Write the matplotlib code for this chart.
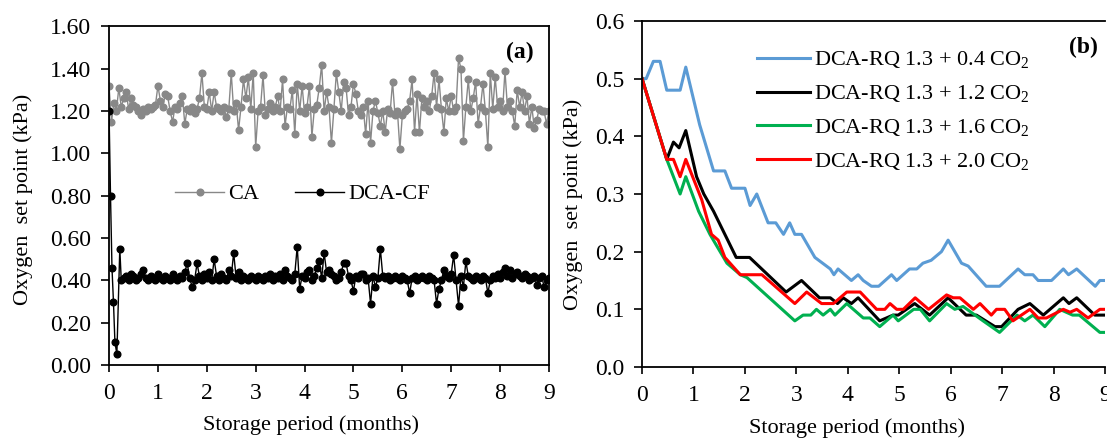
import numpy as np
import matplotlib
matplotlib.use("Agg")
import matplotlib.pyplot as plt

plt.rcParams['font.family'] = ['Liberation Serif', 'DejaVu Serif']
plt.rcParams['mathtext.fontset'] = 'custom'
plt.rcParams['mathtext.rm'] = 'Liberation Serif'

# ---- panel (a): CA and DCA-CF oxygen set points ----
ca_step = 0.05  # months between points
ca_values = [
    1.32, 1.15, 1.24, 1.20, 1.31, 1.22, 1.26, 1.29, 1.21, 1.26, 1.23, 1.22, 1.20, 1.18, 1.21, 1.20, 1.22, 1.21, 1.22, 1.23,
    1.32, 1.25, 1.22, 1.28, 1.27, 1.20, 1.15, 1.22, 1.21, 1.24, 1.27, 1.14, 1.21, 1.20, 1.22, 1.19, 1.21, 1.26, 1.38, 1.22,
    1.21, 1.29, 1.20, 1.29, 1.22, 1.21, 1.20, 1.22, 1.17, 1.21, 1.38, 1.20, 1.24, 1.11, 1.22, 1.35, 1.26, 1.36, 1.21, 1.38,
    1.03, 1.20, 1.22, 1.37, 1.18, 1.21, 1.24, 1.20, 1.22, 1.27, 1.20, 1.35, 1.13, 1.22, 1.21, 1.30, 1.09, 1.33, 1.20, 1.32,
    1.19, 1.22, 1.32, 1.08, 1.21, 1.23, 1.31, 1.42, 1.20, 1.29, 1.22, 1.05, 1.21, 1.38, 1.29, 1.20, 1.34, 1.31, 1.18, 1.22,
    1.33, 1.28, 1.20, 1.18, 1.22, 1.09, 1.25, 1.05, 1.20, 1.25, 1.19, 1.13, 1.20, 1.10, 1.21, 1.19, 1.34, 1.18, 1.20, 1.02,
    1.18, 1.20, 1.21, 1.25, 1.35, 1.10, 1.28, 1.10, 1.26, 1.22, 1.25, 1.20, 1.27, 1.38, 1.22, 1.35, 1.21, 1.10, 1.26, 1.20,
    1.27, 1.20, 1.22, 1.45, 1.40, 1.06, 1.22, 1.35, 1.20, 1.26, 1.34, 1.14, 1.22, 1.33, 1.20, 1.03, 1.38, 1.21, 1.36, 1.22,
    1.25, 1.20, 1.39, 1.22, 1.25, 1.20, 1.13, 1.30, 1.22, 1.29, 1.20, 1.27, 1.14, 1.22, 1.12, 1.16, 1.21, 1.20, 1.20, 1.14, 1.20,
]

# DCA-CF: a few closely spaced points at the start, then every 0.05 month from 0.25
dcacf_start_t = [0.0, 0.03, 0.06, 0.09, 0.12, 0.16, 0.22]
dcacf_start_v = [1.20, 0.80, 0.46, 0.30, 0.11, 0.05, 0.55]
dcacf_grid_t0 = 0.25
dcacf_values = [
    0.40, 0.41, 0.42, 0.40, 0.43, 0.42, 0.40, 0.41, 0.43, 0.45, 0.41, 0.40, 0.42, 0.41, 0.40,
    0.43, 0.41, 0.40, 0.42, 0.41, 0.40, 0.43, 0.41, 0.40, 0.42, 0.41, 0.44, 0.48, 0.41, 0.37, 0.40, 0.48, 0.42, 0.40, 0.43,
    0.41, 0.44, 0.40, 0.50, 0.42, 0.40, 0.43, 0.41, 0.40, 0.45, 0.42, 0.53, 0.41, 0.44, 0.40, 0.42, 0.41, 0.40, 0.42, 0.41,
    0.40, 0.42, 0.41, 0.40, 0.42, 0.41, 0.43, 0.40, 0.42, 0.41, 0.43, 0.40, 0.45, 0.42, 0.41, 0.40, 0.43, 0.56, 0.36, 0.42,
    0.41, 0.44, 0.45, 0.40, 0.42, 0.46, 0.49, 0.41, 0.53, 0.44, 0.45, 0.43, 0.42, 0.40, 0.41, 0.44, 0.48, 0.48, 0.42, 0.40,
    0.35, 0.42, 0.41, 0.43, 0.43, 0.40, 0.41, 0.29, 0.42, 0.37, 0.41, 0.55, 0.42, 0.41, 0.42, 0.40, 0.41, 0.42, 0.41, 0.40,
    0.42, 0.41, 0.40, 0.34, 0.41, 0.42, 0.40, 0.41, 0.42, 0.41, 0.40, 0.42, 0.41, 0.40, 0.29, 0.36, 0.40, 0.45, 0.42, 0.41,
    0.43, 0.52, 0.40, 0.28, 0.42, 0.37, 0.49, 0.42, 0.41, 0.40, 0.42, 0.41, 0.40, 0.42, 0.41, 0.34, 0.40, 0.42, 0.41, 0.43,
    0.41, 0.44, 0.46, 0.42, 0.45, 0.41, 0.43, 0.44, 0.42, 0.41, 0.43, 0.42, 0.40, 0.41, 0.42, 0.38, 0.41, 0.42, 0.37, 0.40, 0.41,
]

# ---- panel (b): DCA-RQ with different CO2 levels ----
rq04_t = [0, 0.08, 0.22, 0.35, 0.48, 0.74, 0.85, 1.12, 1.39, 1.61, 1.74, 2.0, 2.1, 2.23, 2.45, 2.6, 2.75, 2.87,
          2.97, 3.1, 3.36, 3.66, 3.73, 3.81, 4.07, 4.2, 4.3, 4.46, 4.6, 4.85, 4.95, 5.2, 5.34, 5.46, 5.62, 5.82,
          5.95, 6.21, 6.34, 6.69, 6.95, 7.31, 7.44, 7.6, 7.7, 7.96, 8.19, 8.29, 8.45, 8.81, 8.9, 9.0]
rq04_v = [0.50, 0.50, 0.53, 0.53, 0.48, 0.48, 0.52, 0.42, 0.34, 0.34, 0.31, 0.31, 0.28, 0.30, 0.25, 0.25, 0.23, 0.25,
          0.23, 0.23, 0.19, 0.17, 0.16, 0.17, 0.15, 0.16, 0.15, 0.14, 0.14, 0.16, 0.15, 0.17, 0.17, 0.18, 0.185, 0.20,
          0.22, 0.18, 0.175, 0.14, 0.14, 0.17, 0.16, 0.16, 0.15, 0.15, 0.17, 0.16, 0.17, 0.14, 0.15, 0.15]

rq12_t = [0, 0.48, 0.61, 0.72, 0.85, 1.06, 1.2, 1.39, 1.5, 1.83, 2.09, 2.8, 2.95, 3.1, 3.45, 3.66, 3.8, 3.91,
          4.07, 4.2, 4.62, 4.88, 4.98, 5.3, 5.59, 5.95, 6.3, 6.5, 6.86, 6.99, 7.31, 7.54, 7.8, 8.19, 8.3, 8.45, 8.8, 9.0]
rq12_v = [0.50, 0.36, 0.39, 0.38, 0.41, 0.33, 0.30, 0.27, 0.25, 0.19, 0.19, 0.13, 0.14, 0.15, 0.12, 0.12, 0.11, 0.12,
          0.11, 0.12, 0.08, 0.09, 0.09, 0.11, 0.09, 0.12, 0.09, 0.09, 0.07, 0.07, 0.10, 0.11, 0.09, 0.12, 0.11, 0.12, 0.09, 0.09]

rq16_t = [0, 0.48, 0.74, 0.85, 1.1, 1.32, 1.65, 1.91, 2.04, 2.97, 3.13, 3.28, 3.39, 3.52, 3.66, 3.75, 3.98, 4.3,
          4.43, 4.62, 4.88, 4.98, 5.28, 5.41, 5.59, 5.92, 6.08, 6.24, 6.63, 6.95, 7.29, 7.44, 7.6, 7.83, 8.12, 8.37,
          8.5, 8.9, 9.0]
rq16_v = [0.50, 0.36, 0.30, 0.33, 0.27, 0.23, 0.18, 0.16, 0.155, 0.08, 0.09, 0.09, 0.10, 0.09, 0.10, 0.09, 0.11, 0.085,
          0.085, 0.07, 0.09, 0.08, 0.10, 0.10, 0.08, 0.11, 0.10, 0.105, 0.08, 0.06, 0.09, 0.08, 0.09, 0.07, 0.10, 0.09,
          0.09, 0.06, 0.06]

rq20_t = [0, 0.48, 0.61, 0.74, 0.85, 1.16, 1.35, 1.48, 1.61, 1.91, 2.33, 2.97, 3.2, 3.49, 3.72, 3.98, 4.24, 4.56,
          4.72, 4.82, 4.95, 5.08, 5.31, 5.57, 5.92, 6.05, 6.18, 6.44, 6.57, 6.79, 6.89, 7.05, 7.21, 7.54, 7.7, 7.86,
          8.19, 8.32, 8.45, 8.67, 8.9, 9.0]
rq20_v = [0.50, 0.36, 0.36, 0.33, 0.36, 0.29, 0.23, 0.22, 0.19, 0.16, 0.16, 0.11, 0.13, 0.11, 0.11, 0.13, 0.13, 0.10,
          0.10, 0.11, 0.10, 0.10, 0.12, 0.10, 0.125, 0.12, 0.12, 0.10, 0.11, 0.09, 0.10, 0.10, 0.08, 0.10, 0.085, 0.085,
          0.10, 0.095, 0.10, 0.085, 0.10, 0.10]

rq_labels = [r'DCA-RQ 1.3 + 0.4 CO$_\mathregular{2}$', r'DCA-RQ 1.3 + 1.2 CO$_\mathregular{2}$',
             r'DCA-RQ 1.3 + 1.6 CO$_\mathregular{2}$', r'DCA-RQ 1.3 + 2.0 CO$_\mathregular{2}$']
rq_colors = ['#5b9bd5', '#000000', '#00b050', '#ff0000']

ca_t = np.arange(len(ca_values)) * ca_step
dcacf_t = np.concatenate([dcacf_start_t, dcacf_grid_t0 + np.arange(len(dcacf_values)) * ca_step])
dcacf_v = np.concatenate([dcacf_start_v, dcacf_values])

fig = plt.figure(figsize=(11.07, 4.38), dpi=100)
fig.patch.set_facecolor('white')
ax1 = fig.add_axes([0.0985, 0.1667, 0.3974, 0.7728])
ax2 = fig.add_axes([0.580, 0.1621, 0.4182, 0.7900])

TICK_FS = 17
LABEL_FS = 16

# panel (a)
ax1.plot(ca_t, ca_values, color='#888888', lw=1.0, marker='o', ms=4.8, label='CA')
ax1.plot(dcacf_t, dcacf_v, color='black', lw=1.0, marker='o', ms=4.8, label='DCA-CF')
ax1.set_xlim(0, 9)
ax1.set_ylim(0, 1.6)
ax1.set_xticks(range(10))
ax1.set_yticks(np.arange(0, 1.61, 0.2))
ax1.yaxis.set_major_formatter(matplotlib.ticker.FormatStrFormatter('%.2f'))
ax1.legend(loc='center', bbox_to_anchor=(0.44, 0.505), ncol=2, frameon=False, fontsize=LABEL_FS,
           handlelength=2.2, handletextpad=0.2, columnspacing=1.6)
ax1.text(0.965, 0.955, '(a)', transform=ax1.transAxes, ha='right', va='top', fontsize=17, fontweight='bold')
ax1.set_ylabel('Oxygen  set point (kPa)', fontsize=LABEL_FS)
ax1.yaxis.set_label_coords(-0.172, 0.49)
ax1.set_xlabel('Storage period (months)', fontsize=LABEL_FS)
ax1.xaxis.set_label_coords(0.46, -0.148)

# panel (b)
for t, v, lab, c in zip([rq04_t, rq12_t, rq16_t, rq20_t], [rq04_v, rq12_v, rq16_v, rq20_v], rq_labels, rq_colors):
    ax2.plot(t, v, color=c, lw=2.2, label=lab)
ax2.set_xlim(0, 9)
ax2.set_ylim(0, 0.6)
ax2.set_xticks(range(10))
ax2.set_yticks(np.arange(0, 0.61, 0.1))
ax2.yaxis.set_major_formatter(matplotlib.ticker.FormatStrFormatter('%.1f'))
ax2.spines['right'].set_visible(False)
ax2.legend(loc='upper left', bbox_to_anchor=(0.205, 0.975), frameon=False, fontsize=LABEL_FS,
           handlelength=2.4, handletextpad=0.15, labelspacing=0.55)
ax2.text(0.985, 0.955, '(b)', transform=ax2.transAxes, ha='right', va='top', fontsize=17, fontweight='bold')
ax2.set_ylabel('Oxygen  set point (kPa)', fontsize=LABEL_FS)
ax2.yaxis.set_label_coords(-0.127, 0.47)
ax2.set_xlabel('Storage period (months)', fontsize=LABEL_FS)
ax2.xaxis.set_label_coords(0.465, -0.148)

for ax in (ax1, ax2):
    ax.tick_params(axis='y', direction='out', length=6, width=1.2, pad=7, labelsize=TICK_FS)
    ax.tick_params(axis='x', direction='out', length=5, width=1.2, pad=8, labelsize=TICK_FS)
    for s in ax.spines.values():
        s.set_linewidth(1.3)

fig.savefig('out.png', dpi=100)
